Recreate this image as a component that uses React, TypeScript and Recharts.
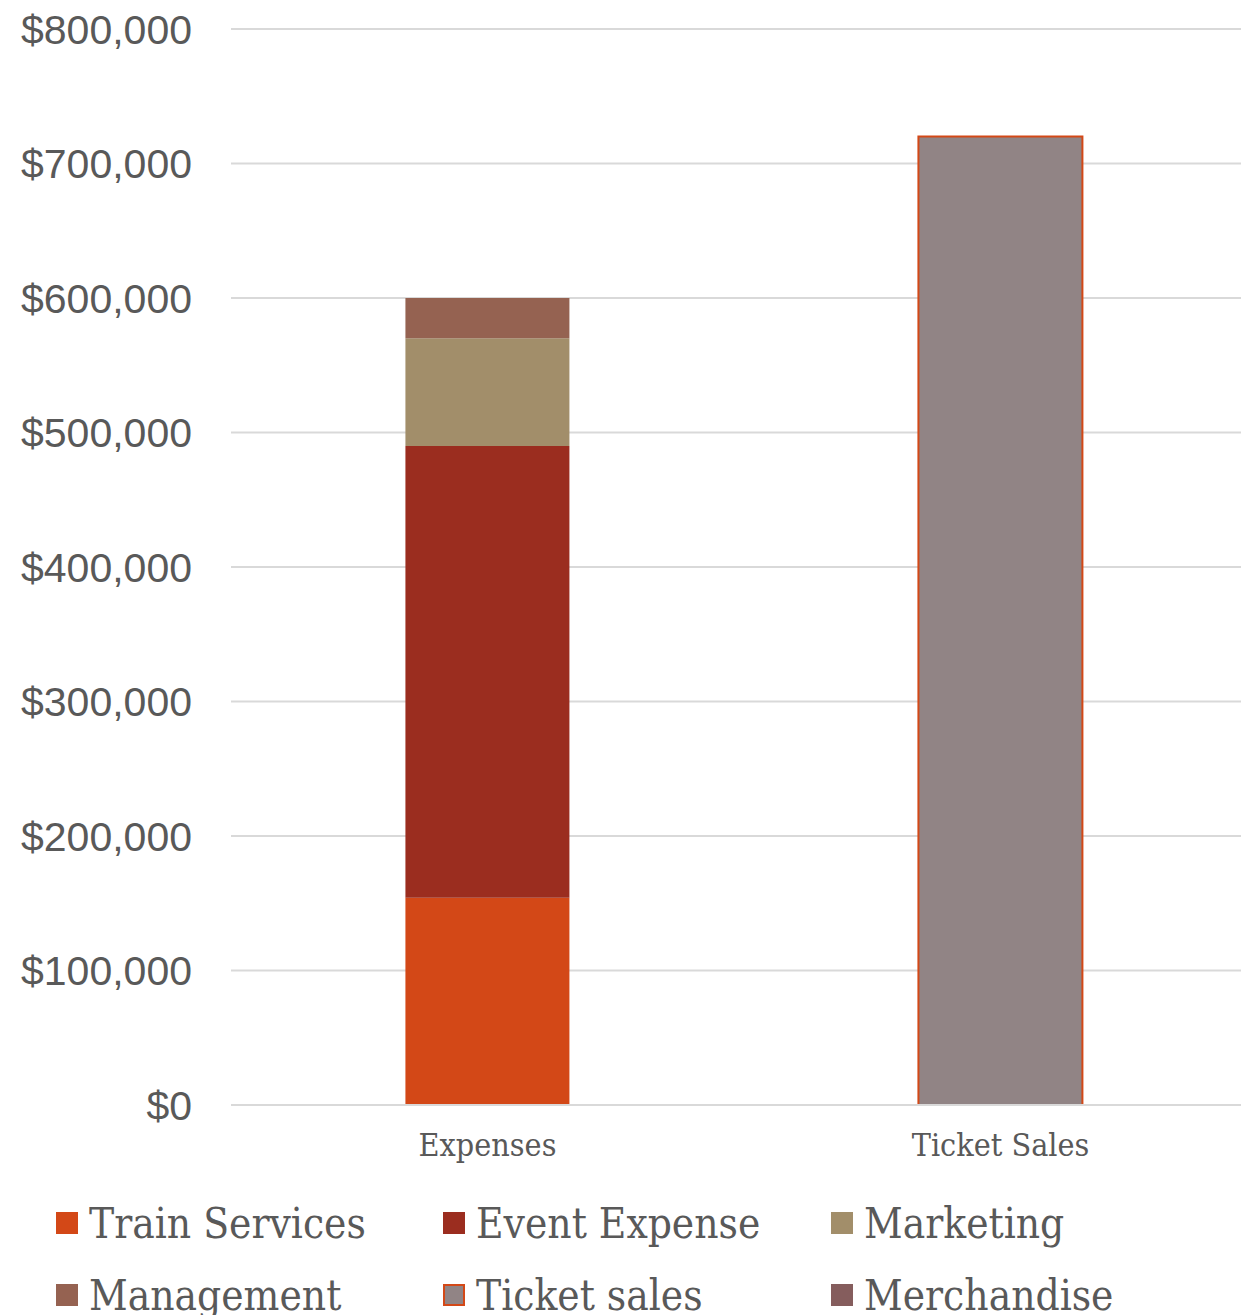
import { Bar, BarChart, CartesianGrid, Legend, XAxis, YAxis } from 'recharts';

const categories = ['Expenses', 'Ticket Sales'];
const trainServices = [154000, 0];
const eventExpense = [336000, 0];
const marketing = [80000, 0];
const management = [30000, 0];
const ticketSales = [0, 720000];
const merchandise = [0, 0];
const yTicks = [0, 100000, 200000, 300000, 400000, 500000, 600000, 700000, 800000];

const series = [
  { key: 'trainServices', name: 'Train Services', fill: '#D34817', stroke: 'none' },
  { key: 'eventExpense', name: 'Event Expense', fill: '#9B2D1F', stroke: 'none' },
  { key: 'marketing', name: 'Marketing', fill: '#A28E6A', stroke: 'none' },
  { key: 'management', name: 'Management', fill: '#956251', stroke: 'none' },
  { key: 'ticketSales', name: 'Ticket sales', fill: '#918485', stroke: '#D34817' },
  { key: 'merchandise', name: 'Merchandise', fill: '#855D5D', stroke: 'none' }
];

const data = categories.map((category, i) => ({
  category,
  trainServices: trainServices[i],
  eventExpense: eventExpense[i],
  marketing: marketing[i],
  management: management[i],
  ticketSales: ticketSales[i],
  merchandise: merchandise[i]
}));

const slab = '"DejaVu Serif Condensed", "DejaVu Serif", serif';
const formatMoney = (v: number) => `$${v.toLocaleString('en-US')}`;

function LegendGrid() {
  const colLeft = [56, 443, 831];
  return (
    <div style={{ position: 'relative', width: 1241, height: 150 }}>
      {series.map((s, i) => (
        <div
          key={s.key}
          style={{
            position: 'absolute',
            left: colLeft[i % 3],
            top: Math.floor(i / 3) * 72,
            display: 'flex',
            alignItems: 'center',
            height: 50,
            fontFamily: slab,
            fontSize: 42,
            color: '#595959',
            whiteSpace: 'nowrap'
          }}
        >
          <span
            style={{
              display: 'inline-block',
              width: s.stroke === 'none' ? 22 : 18,
              height: s.stroke === 'none' ? 22 : 18,
              background: s.fill,
              border: s.stroke === 'none' ? 'none' : `2px solid ${s.stroke}`,
              marginRight: 11
            }}
          />
          {s.name}
        </div>
      ))}
    </div>
  );
}

export default function App() {
  return (
    <div style={{ position: 'absolute', left: 0, top: 0, width: 1241, height: 1315, overflow: 'hidden', background: '#fff' }}>
      <BarChart
        width={1260}
        height={1315}
        data={data}
        margin={{ top: 29, right: 3, bottom: 0, left: 0 }}
        barCategoryGap="34%"
      >
        <CartesianGrid vertical={false} stroke="#D9D9D9" strokeWidth={2} />
        <XAxis
          dataKey="category"
          axisLine={{ stroke: '#D9D9D9', strokeWidth: 2 }}
          tickLine={false}
          tickSize={0}
          tickMargin={28}
          height={60}
          tick={{ fontFamily: slab, fontSize: 32, fill: '#595959' }}
        />
        <YAxis
          width={231}
          domain={[0, 800000]}
          ticks={yTicks}
          axisLine={false}
          tickLine={false}
          tickSize={0}
          tickMargin={39}
          tickFormatter={formatMoney}
          tick={{ fontFamily: '"Liberation Sans", Arial, sans-serif', fontSize: 41, fill: '#595959' }}
        />
        {series.map((s) => (
          <Bar
            key={s.key}
            dataKey={s.key}
            name={s.name}
            stackId="a"
            fill={s.fill}
            stroke={s.stroke}
            strokeWidth={s.stroke === 'none' ? 0 : 2}
            isAnimationActive={false}
          />
        ))}
        <Legend
          content={() => <LegendGrid />}
          wrapperStyle={{ left: 0, top: 1198, width: 1241, height: 150 }}
        />
      </BarChart>
    </div>
  );
}
